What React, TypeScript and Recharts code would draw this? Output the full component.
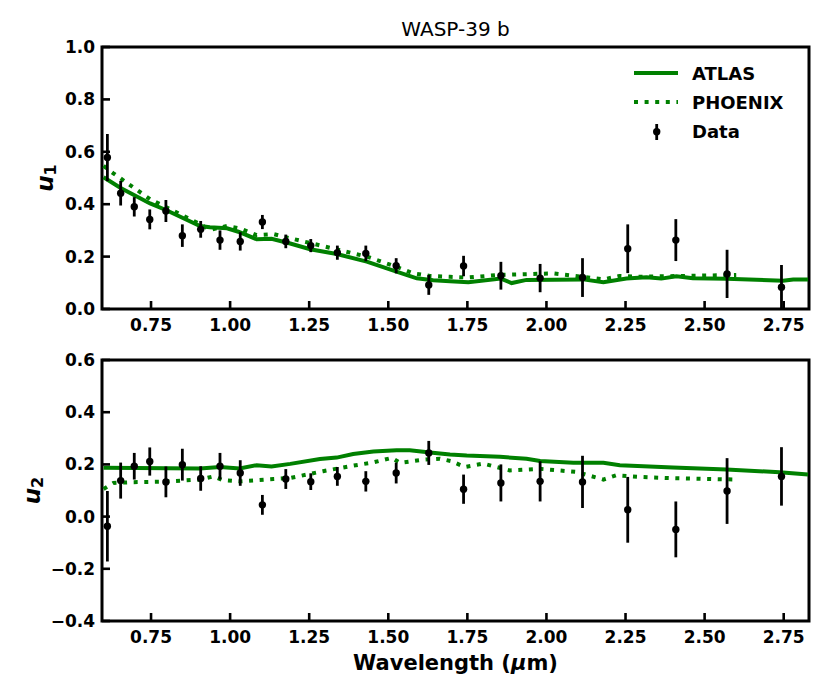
import React from 'react';
import {
  ComposedChart,
  Line,
  Scatter,
  ErrorBar,
  XAxis,
  YAxis,
  ReferenceArea,
  Legend,
  Label,
} from 'recharts';

// ---------- data ----------
const wavelengths = [
  0.612, 0.654, 0.697, 0.746, 0.797, 0.849, 0.907, 0.968, 1.032, 1.102, 1.176, 1.255,
  1.339, 1.429, 1.525, 1.628, 1.738, 1.856, 1.98, 2.114, 2.257, 2.409, 2.571, 2.743,
];
const u1Values = [
  0.578, 0.442, 0.39, 0.342, 0.374, 0.28, 0.304, 0.263, 0.258, 0.332, 0.258, 0.242,
  0.215, 0.212, 0.165, 0.092, 0.164, 0.127, 0.118, 0.12, 0.23, 0.263, 0.134, 0.083,
];
const u1Errors = [
  0.09, 0.047, 0.037, 0.038, 0.042, 0.043, 0.032, 0.037, 0.035, 0.027, 0.026, 0.025,
  0.027, 0.03, 0.029, 0.038, 0.039, 0.053, 0.054, 0.074, 0.093, 0.08, 0.092, 0.085,
];
const u2Values = [
  -0.037, 0.138, 0.193, 0.211, 0.133, 0.199, 0.146, 0.193, 0.167, 0.045, 0.144, 0.134,
  0.154, 0.135, 0.167, 0.244, 0.105, 0.129, 0.135, 0.133, 0.026, -0.049, 0.098, 0.154,
];
const u2Errors = [
  0.135, 0.069, 0.051, 0.054, 0.059, 0.061, 0.047, 0.051, 0.049, 0.038, 0.038, 0.032,
  0.036, 0.039, 0.04, 0.046, 0.056, 0.071, 0.077, 0.1, 0.126, 0.107, 0.126, 0.112,
];

const atlasU1Wave = [
  0.6, 0.654, 0.747, 0.797, 0.905, 0.936, 0.99, 1.026, 1.084, 1.131, 1.19, 1.253, 1.337,
  1.432, 1.526, 1.59, 1.642, 1.695, 1.753, 1.856, 1.89, 1.937, 2.116, 2.18, 2.253, 2.316,
  2.363, 2.411, 2.463, 2.569, 2.748, 2.78, 2.827,
];
const atlasU1 = [
  0.503, 0.462, 0.403, 0.378, 0.317, 0.312, 0.308, 0.295, 0.266, 0.268, 0.25, 0.228, 0.21,
  0.181, 0.143, 0.117, 0.11, 0.106, 0.102, 0.116, 0.099, 0.111, 0.113, 0.102, 0.116, 0.121,
  0.116, 0.125, 0.117, 0.115, 0.108, 0.113, 0.113,
];
const phoenixU1Wave = [
  0.6, 0.631, 0.747, 0.905, 0.937, 0.99, 1.03, 1.084, 1.137, 1.19, 1.294, 1.432, 1.526,
  1.579, 1.632, 1.695, 1.75, 1.85, 2.02, 2.115, 2.18, 2.23, 2.29, 2.6,
];
const phoenixU1 = [
  0.546, 0.518, 0.419, 0.324, 0.302, 0.317, 0.308, 0.282, 0.286, 0.27, 0.24, 0.2, 0.161,
  0.136, 0.126, 0.123, 0.12, 0.13, 0.136, 0.123, 0.113, 0.126, 0.123, 0.13,
];
const atlasU2Wave = [
  0.6, 0.905, 0.968, 1.03, 1.084, 1.131, 1.19, 1.284, 1.337, 1.389, 1.453, 1.526, 1.568,
  1.632, 1.695, 1.748, 1.853, 1.937, 1.98, 2.085, 2.18, 2.232, 2.4, 2.569, 2.737, 2.827,
];
const atlasU2 = [
  0.187, 0.184, 0.19, 0.184, 0.197, 0.192, 0.202, 0.221, 0.226, 0.24, 0.249, 0.254, 0.254,
  0.246, 0.238, 0.234, 0.229, 0.222, 0.213, 0.206, 0.206, 0.197, 0.188, 0.18, 0.17, 0.161,
];
const phoenixU2Wave = [
  0.6, 0.631, 0.694, 0.789, 0.905, 0.947, 0.979, 1.03, 1.137, 1.19, 1.294, 1.379, 1.453,
  1.511, 1.537, 1.611, 1.663, 1.7, 1.742, 1.8, 1.884, 1.98, 2.095, 2.18, 2.22, 2.295, 2.4,
  2.606,
];
const phoenixU2 = [
  0.106, 0.129, 0.132, 0.134, 0.142, 0.154, 0.139, 0.135, 0.144, 0.148, 0.174, 0.193, 0.208,
  0.225, 0.206, 0.218, 0.222, 0.212, 0.19, 0.203, 0.177, 0.183, 0.171, 0.142, 0.158, 0.152,
  0.147, 0.142,
];

const xTicks = [0.75, 1.0, 1.25, 1.5, 1.75, 2.0, 2.25, 2.5, 2.75];
const u1Ticks = [0, 0.2, 0.4, 0.6, 0.8, 1.0];
const u2Ticks = [-0.4, -0.2, 0, 0.2, 0.4, 0.6];
const xDomain: [number, number] = [0.595, 2.83];
const u1Domain: [number, number] = [0, 1];
const u2Domain: [number, number] = [-0.4, 0.6];

// ---------- helpers ----------
const zip = (xs: number[], ys: number[], es?: number[]) =>
  xs.map((x, i) => ({ x, y: ys[i], err: es ? es[i] : 0 }));

const GREEN = '#008000';
const FONT = '"DejaVu Sans", sans-serif';

const fmtY = (v: number) => {
  const s = Math.abs(v).toFixed(1);
  return v < -1e-9 ? '\u2212' + s : s;
};

const YTick = (props: any) => {
  const { x, y, payload } = props;
  return (
    <g>
      <line x1={x + 7} x2={x + 15} y1={y} y2={y} stroke="#000" strokeWidth={2.6} />
      <text
        x={x}
        y={y}
        textAnchor="end"
        dominantBaseline="central"
        fontFamily={FONT}
        fontWeight="bold"
        fontSize={17}
        fill="#000"
      >
        {fmtY(payload.value)}
      </text>
    </g>
  );
};

const XTick = (props: any) => {
  const { x, y, payload } = props;
  return (
    <g>
      <line x1={x} x2={x} y1={y} y2={y - 8} stroke="#000" strokeWidth={2.6} />
      <text
        x={x}
        y={y + 16}
        textAnchor="middle"
        dominantBaseline="central"
        fontFamily={FONT}
        fontWeight="bold"
        fontSize={17}
        fill="#000"
      >
        {Number(payload.value).toFixed(2)}
      </text>
    </g>
  );
};

const LegendBox = () => (
  <svg width={200} height={95} style={{ overflow: 'visible', display: 'block' }}>
    <line x1={14} x2={58} y1={18} y2={18} stroke={GREEN} strokeWidth={4} />
    <line
      x1={14}
      x2={58}
      y1={47}
      y2={47}
      stroke={GREEN}
      strokeWidth={4}
      strokeDasharray="4 6.6"
    />
    <line x1={36.7} x2={36.7} y1={69} y2={85} stroke="#000" strokeWidth={2.8} />
    <circle cx={36.7} cy={76.7} r={3.7} fill="#000" />
    {['ATLAS', 'PHOENIX', 'Data'].map((t, i) => (
      <text
        key={t}
        x={72}
        y={18 + i * 29.3}
        dominantBaseline="central"
        fontFamily={FONT}
        fontWeight="bold"
        fontSize={18}
        fill="#000"
      >
        {t}
      </text>
    ))}
  </svg>
);

const dotShape = (p: any) => <circle cx={p.cx} cy={p.cy} r={3.7} fill="#000" />;

type PanelProps = {
  top: number;
  height: number;
  marginTop: number;
  marginBottom: number;
  yDomain: [number, number];
  yTicks: number[];
  obs: { x: number; y: number; err: number }[];
  atlas: { x: number; y: number; err: number }[];
  phoenix: { x: number; y: number; err: number }[];
  sub: string;
  labelX: number;
  legend?: boolean;
  xLabel?: boolean;
};

function Panel(props: PanelProps) {
  const { top, height, marginTop, marginBottom, yDomain, yTicks, obs, atlas, phoenix, sub, labelX } =
    props;
  return (
    <div style={{ position: 'absolute', left: 0, top, width: 830, height }}>
      <ComposedChart
        width={830}
        height={height}
        margin={{ top: marginTop, right: 21, bottom: marginBottom, left: 0 }}
      >
        <XAxis
          type="number"
          dataKey="x"
          domain={xDomain}
          ticks={xTicks}
          allowDataOverflow
          interval={0}
          height={30}
          tickSize={0}
          tickMargin={0}
          axisLine={false}
          tickLine={false}
          tick={(p: any) => <XTick {...p} />}
        >
          {props.xLabel ? (
            <Label
              content={(lp: any) => {
                const vb = lp.viewBox || { x: 102, y: 621, width: 707, height: 30 };
                return (
                  <text
                    x={vb.x + vb.width / 2}
                    y={vb.y + 42}
                    textAnchor="middle"
                    dominantBaseline="central"
                    fontFamily={FONT}
                    fontWeight="bold"
                    fontSize={21}
                    fill="#000"
                  >
                    Wavelength (<tspan fontStyle="italic">μ</tspan>m)
                  </text>
                );
              }}
            />
          ) : null}
        </XAxis>
        <YAxis
          type="number"
          domain={yDomain}
          ticks={yTicks}
          allowDataOverflow
          interval={0}
          width={102}
          tickSize={0}
          tickMargin={7}
          axisLine={false}
          tickLine={false}
          tick={(p: any) => <YTick {...p} />}
        >
          <Label
            content={(lp: any) => {
              const vb = lp.viewBox || { x: 0, y: marginTop, width: 102, height: 262 };
              const cx = vb.x + labelX;
              const cy = vb.y + vb.height / 2;
              return (
                <text
                  x={cx}
                  y={cy}
                  transform={`rotate(-90 ${cx} ${cy})`}
                  textAnchor="middle"
                  dominantBaseline="central"
                  fontFamily={FONT}
                  fontWeight="bold"
                  fill="#000"
                >
                  <tspan fontSize={23} fontStyle="italic">
                    u
                  </tspan>
                  <tspan fontSize={16} dy={5}>
                    {sub}
                  </tspan>
                </text>
              );
            }}
          />
        </YAxis>
        <Line
          data={atlas}
          dataKey="y"
          type="linear"
          stroke={GREEN}
          strokeWidth={4}
          dot={false}
          activeDot={false}
          isAnimationActive={false}
          name="ATLAS"
        />
        <Line
          data={phoenix}
          dataKey="y"
          type="linear"
          stroke={GREEN}
          strokeWidth={4}
          strokeDasharray="4 6.6"
          dot={false}
          activeDot={false}
          isAnimationActive={false}
          name="PHOENIX"
        />
        <Scatter data={obs} dataKey="y" shape={dotShape} isAnimationActive={false} name="Data">
          <ErrorBar
            dataKey="err"
            direction="y"
            width={0}
            stroke="#000"
            strokeWidth={2.8}
            isAnimationActive={false}
          />
        </Scatter>
        <ReferenceArea
          x1={xDomain[0]}
          x2={xDomain[1]}
          y1={yDomain[0]}
          y2={yDomain[1]}
          fill="none"
          fillOpacity={0}
          stroke="#000"
          strokeWidth={3}
          strokeOpacity={1}
        />
        {props.legend ? (
          <Legend
            layout="vertical"
            align="center"
            verticalAlign="middle"
            wrapperStyle={{ left: 620, top: 55, width: 200, height: 95 }}
            content={() => <LegendBox />}
          />
        ) : null}
      </ComposedChart>
    </div>
  );
}

export default function App() {
  const u1Obs = zip(wavelengths, u1Values, u1Errors);
  const u2Obs = zip(wavelengths, u2Values, u2Errors);
  return (
    <div
      style={{
        position: 'absolute',
        left: 0,
        top: 0,
        width: 830,
        height: 697,
        background: '#fff',
        overflow: 'hidden',
      }}
    >
      <svg width={830} height={45} style={{ position: 'absolute', left: 0, top: 0 }}>
        <text
          x={455.5}
          y={29}
          textAnchor="middle"
          dominantBaseline="central"
          fontFamily={FONT}
          fontSize={20}
          fill="#000"
        >
          WASP-39 b
        </text>
      </svg>
      <Panel
        top={0}
        height={345}
        marginTop={47}
        marginBottom={6}
        yDomain={u1Domain}
        yTicks={u1Ticks}
        obs={u1Obs}
        atlas={zip(atlasU1Wave, atlasU1)}
        phoenix={zip(phoenixU1Wave, phoenixU1)}
        sub="1"
        labelX={45}
        legend
      />
      <Panel
        top={345}
        height={352}
        marginTop={15}
        marginBottom={46}
        yDomain={u2Domain}
        yTicks={u2Ticks}
        obs={u2Obs}
        atlas={zip(atlasU2Wave, atlasU2)}
        phoenix={zip(phoenixU2Wave, phoenixU2)}
        sub="2"
        labelX={32}
        xLabel
      />
    </div>
  );
}
